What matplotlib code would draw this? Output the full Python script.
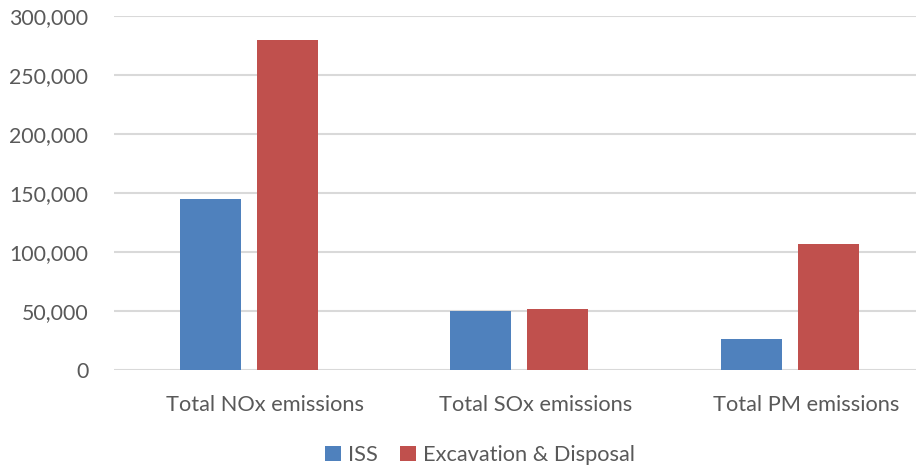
import matplotlib
matplotlib.use("Agg")
import matplotlib.pyplot as plt
import numpy as np
from matplotlib.ticker import FuncFormatter

categories = ["Total NOx emissions", "Total SOx emissions", "Total PM emissions"]
series_names = ["ISS", "Excavation & Disposal"]
iss_values = [145000, 50000, 26000]
ed_values = [280000, 52000, 107000]
colors = ["#4F81BD", "#C0504D"]

plt.rcParams['font.family'] = ['Lato', 'DejaVu Sans']

fig = plt.figure(figsize=(9.16, 4.67), dpi=100)
ax = fig.add_axes([113.5/916, 1-370/467, 811.5/916, (370-16)/467])

x = np.arange(len(categories))
w = 0.2255
gap = 0.059
label_shift = 0.059
ax.bar(x - (w+gap)/2, iss_values, w, color=colors[0], label=series_names[0], zorder=3)
ax.bar(x + (w+gap)/2, ed_values, w, color=colors[1], label=series_names[1], zorder=3)

ax.set_xlim(-0.5, len(categories)-0.5)
ax.set_ylim(0, 300000)
ax.set_yticks(np.arange(0, 300001, 50000))
ax.yaxis.set_major_formatter(FuncFormatter(lambda v, p: f"{int(v):,}"))
ax.grid(axis='y', color='#D9D9D9', linewidth=1.5, zorder=0)
ax.set_xticks(x + label_shift)
ax.set_xticklabels(categories)
for s in ax.spines.values():
    s.set_visible(False)
ax.tick_params(axis='both', length=0, colors='#595959')
ax.tick_params(axis='x', pad=18, labelsize=15.7)
ax.tick_params(axis='y', pad=18, labelsize=15.3)

leg = fig.legend(loc='center', bbox_to_anchor=(480/916, 1-455/467), ncol=2, frameon=False,
                 fontsize=15.7, handlelength=0.72, handleheight=0.72, handletextpad=0.35,
                 columnspacing=1.0)
for t in leg.get_texts():
    t.set_color('#595959')

fig.savefig("out.png", dpi=100)
